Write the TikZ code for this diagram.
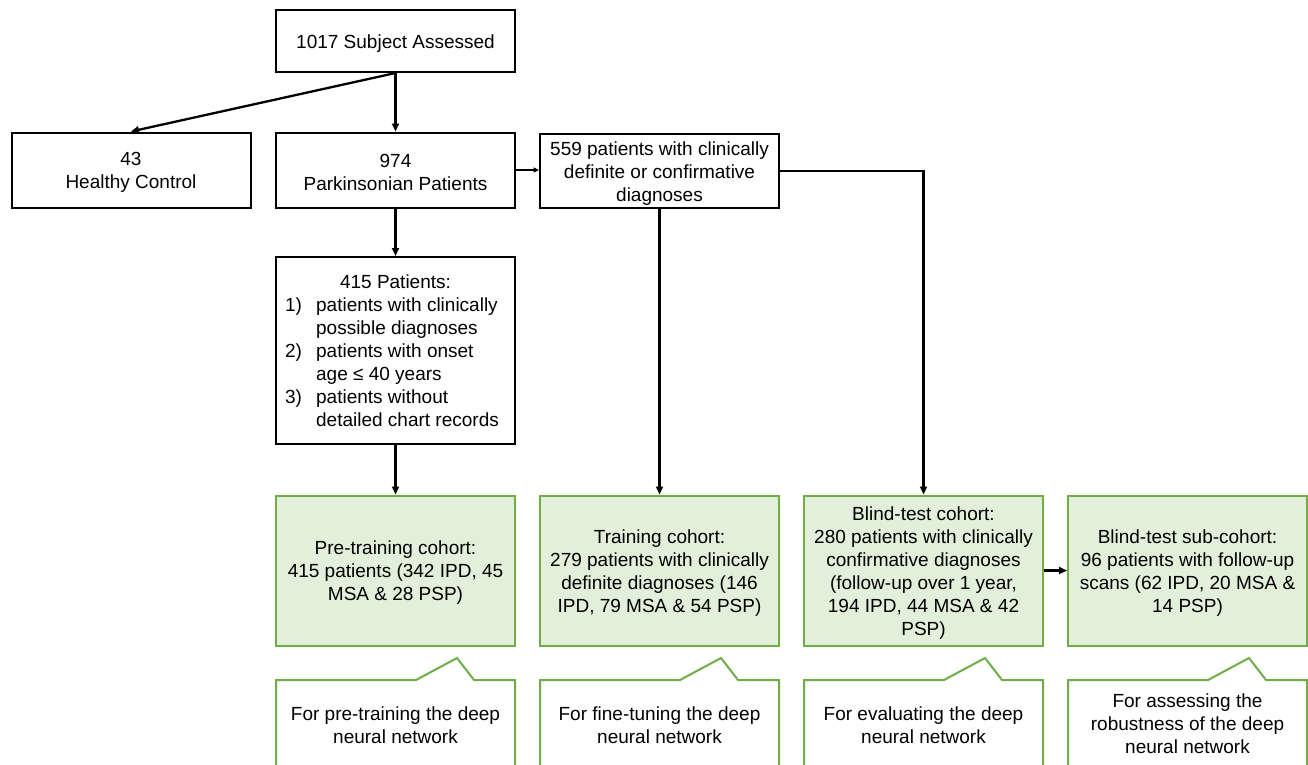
\documentclass[tikz,border=0pt]{standalone}
\usepackage{fontspec}
\setmainfont{Liberation Sans}
\usetikzlibrary{arrows.meta}
\newcommand\bodyfs{\fontsize{19}{23}\selectfont}
\definecolor{gline}{HTML}{70AD47}
\definecolor{gfill}{HTML}{E2EFDA}
% box with its text set 3px lower than the geometric centre
\newcommand\bx[4]{\node[#1] (#2) at (#3) {};
  \node[ctext] (#2t) at ([yshift=-2.5pt]#2.center) {#4};}
\begin{document}
\begin{tikzpicture}[x=1pt,y=-1pt,
  box/.style={draw=black, line width=2pt, minimum width=239pt, inner sep=0pt},
  gbox/.style={box, draw=gline, fill=gfill, minimum height=150pt},
  ctext/.style={align=center, font=\bodyfs, inner sep=0pt, text=black},
  callout/.style={draw=gline, line width=2pt, fill=white},
  arr/.style={line width=2.3pt, -{Triangle[length=8pt,width=7pt]}},
  arrthin/.style={line width=1.1pt, -{Triangle[length=5.5pt,width=5pt]}}]
\useasboundingbox (0,0) rectangle (1308,764);
\fill[white] (0,0) rectangle (1308,764);

\bx{box, minimum height=62pt}{top}{395.5,41}{1017 Subject Assessed}
\bx{box, minimum height=75pt}{healthy}{131,170}{43\\Healthy Control}
\bx{box, minimum height=75pt}{park}{395.5,170}{974\\Parkinsonian Patients}
\bx{box, minimum height=74pt}{d559}{659.5,171}{559 patients with clinically\\definite or confirmative\\diagnoses}
\bx{box, minimum height=187pt}{list}{395.5,350.5}{\begin{tabular}{@{}p{31pt}@{}l@{\hspace{7pt}}}\multicolumn{2}{@{}c@{}}{415 Patients:}\\
1) & patients with clinically\\
 & possible diagnoses\\
2) & patients with onset\\
 & age ≤ 40 years\\
3) & patients without\\
 & detailed chart records\end{tabular}}

\bx{gbox}{pre}{395.5,570.5}{Pre-training cohort:\\415 patients (342 IPD, 45\\MSA \& 28 PSP)}
\bx{gbox}{train}{659.5,570.5}{Training cohort:\\279 patients with clinically\\definite diagnoses (146\\IPD, 79 MSA \& 54 PSP)}
\bx{gbox}{blind}{923.5,570.5}{Blind-test cohort:\\280 patients with clinically\\confirmative diagnoses\\(follow-up over 1 year,\\194 IPD, 44 MSA \& 42\\PSP)}
\bx{gbox}{sub}{1187.5,570.5}{Blind-test sub-cohort:\\96 patients with follow-up\\scans (62 IPD, 20 MSA \&\\14 PSP)}

\foreach \L in {276,540,804,1068}{
  \draw[callout] (\L,790) -- (\L,680) -- (\L+140,680) -- (\L+181,658) -- (\L+198,680) -- (\L+239,680) -- (\L+239,790);
}
\node[ctext] (cpre) at (395.5,725.5) {For pre-training the deep\\neural network};
\node[ctext] (ctrain) at (659.5,725.5) {For fine-tuning the deep\\neural network};
\node[ctext] (cblind) at (923.5,725.5) {For evaluating the deep\\neural network};
\node[ctext] (csub) at (1187.5,724) {For assessing the\\robustness of the deep\\neural network};

\draw[arr] (top.south) -- (park.north);
\draw[arr] (top.south) -- (healthy.north);
\draw[arrthin] (park.east) -- (d559.west |- park.east);
\draw[arr] (park.south) -- (list.north);
\draw[arr] (list.south) -- (pre.north);
\draw[arr] (d559.south) -- (train.north);
\draw[arr] (d559.east) -| (blind.north);
\draw[arr] (blind.east) -- (sub.west);
\end{tikzpicture}
\end{document}
